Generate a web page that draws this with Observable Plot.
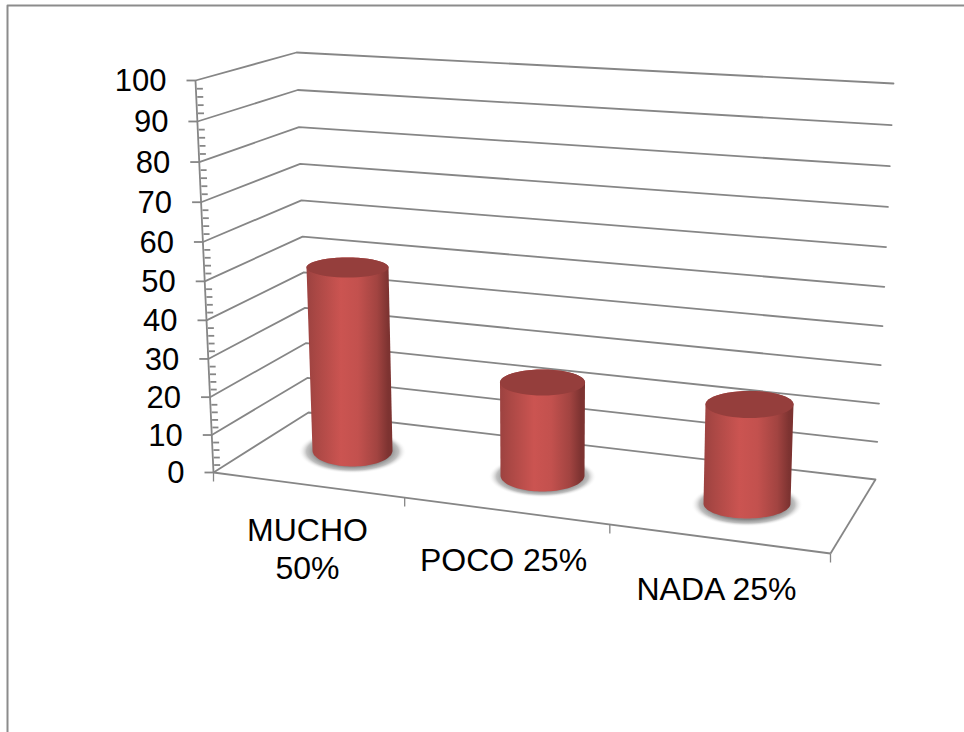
<!DOCTYPE html>
<html>
<head>
<meta charset="utf-8">
<script src="https://cdn.jsdelivr.net/npm/d3@7"></script>
<script src="https://cdn.jsdelivr.net/npm/@observablehq/plot@0.6"></script>
<style>
  html, body { margin: 0; padding: 0; background: #fff; }
  svg { display: block; }
</style>
</head>
<body>
<div id="chart"></div>
<script>
// ---- data ----
const categories = ["MUCHO\n50%", "POCO 25%", "NADA 25%"];
const values = [50, 25, 25];
const majorTicks = [0, 10, 20, 30, 40, 50, 60, 70, 80, 90, 100];
const minorTicks = d3.range(0, 101, 2).filter(v => v % 10 !== 0);

// ---- 3D box corners on the page ----
const box = {
  frontBottom: [213, 472], frontTop: [195, 80],
  backBottom: [308, 412], backTop: [296, 52],
  rightBottom: [875, 479], rightTop: [893, 83],
  frontRight: [830, 553]
};
// ---- cylinder and label placement ----
const cyl = {
  baseX: [352, 542, 746.5], baseY: [450, 475, 503],
  unit: [3.66, 3.72, 3.96], tilt: [-0.1, 0, 0.1],
  rxBase: [40, 42, 43.5], ryBase: [16, 16, 15],
  rxTop: [41, 42.5, 44], ryTop: [10, 13, 13.5],
  shadowRx: [54, 54, 56], shadowRy: [22, 21, 22]
};
const labelPos = {x: [307, 503, 716], y: [513, 543, 572]};

// maps the unit square onto a quadrilateral (perspective)
function quad(p00, p10, p11, p01) {
  const [x0, y0] = p00, [x1, y1] = p10, [x2, y2] = p11, [x3, y3] = p01;
  const dx1 = x1 - x2, dx2 = x3 - x2, sx = x0 - x1 + x2 - x3;
  const dy1 = y1 - y2, dy2 = y3 - y2, sy = y0 - y1 + y2 - y3;
  const den = dx1 * dy2 - dx2 * dy1;
  const g = (sx * dy2 - dx2 * sy) / den, h = (dx1 * sy - sx * dy1) / den;
  const a = x1 - x0 + g * x1, b = x3 - x0 + h * x3, c = x0;
  const d = y1 - y0 + g * y1, e = y3 - y0 + h * y3, f = y0;
  return (u, v) => {
    const w = g * u + h * v + 1;
    return [(a * u + b * v + c) / w, (d * u + e * v + f) / w];
  };
}
const leftWall = quad(box.frontBottom, box.backBottom, box.backTop, box.frontTop);
const backWall = quad(box.backBottom, box.rightBottom, box.rightTop, box.backTop);
const front = (v) => leftWall(0, v / 100);

const pt = ([x, y]) => ({x, y});
const gridlines = majorTicks.flatMap(v => [
  {v, ...pt(leftWall(0, v / 100))},
  {v, ...pt(leftWall(1, v / 100))},
  {v, ...pt(backWall(1, v / 100))}
]);
const seg = (a, b, k) => ({x1: a[0], y1: a[1], x2: b[0], y2: b[1], k});
const majorSegs = majorTicks.map(v => {
  const p = front(v);
  return seg([p[0] - 9, p[1]], p);
});
const minorSegs = minorTicks.map(v => {
  const p = front(v);
  return seg([p[0] + 1, p[1]], [p[0] + 7, p[1]]);
});
const floorFront = quad(box.frontBottom, box.frontRight, box.rightBottom, box.backBottom);
const catTicks = d3.range(0, categories.length + 1).map(i => {
  const p = floorFront(i / categories.length, 0);
  return seg(p, [p[0], p[1] + 9]);
});
const floorLines = [
  seg(box.frontBottom, box.frontRight),
  seg(box.frontRight, box.rightBottom),
  seg(box.frontBottom, box.frontTop)
];
const arc = (cx, cy, rx, ry, a0, a1, n = 48) =>
  d3.range(n + 1).map(i => {
    const t = a0 + (a1 - a0) * i / n;
    return {x: cx + rx * Math.cos(t), y: cy + ry * Math.sin(t)};
  });

const cylMarks = values.flatMap((val, i) => {
  const bx = cyl.baseX[i], by = cyl.baseY[i];
  const tx = bx + val * cyl.tilt[i], ty = by - val * cyl.unit[i];
  const shadow = arc(bx, by + 1, cyl.shadowRx[i], cyl.shadowRy[i], 0, 2 * Math.PI);
  const body = [
    ...arc(bx, by, cyl.rxBase[i], cyl.ryBase[i], Math.PI, 0),
    ...arc(tx, ty, cyl.rxTop[i], cyl.ryTop[i], 0, -Math.PI)
  ];
  const top = arc(tx, ty, cyl.rxTop[i], cyl.ryTop[i], 0, 2 * Math.PI);
  const line = {x: "x", y: "y", stroke: "none"};
  return [
    Plot.line(shadow, {...line, fill: "url(#shadow)"}),
    Plot.line(body, {...line, fill: "url(#body)"}),
    Plot.line(top, {...line, fill: "#953e3c"})
  ];
});

const defs = () => {
  const d = d3.create("svg:defs");
  const g = d.append("linearGradient").attr("id", "body");
  [[0, "#9c4240"], [0.12, "#ab4845"], [0.4, "#cb5451"], [0.6, "#c3514e"], [0.82, "#a24441"], [0.95, "#7d3331"], [1, "#7d3331"]]
    .forEach(([o, c]) => g.append("stop").attr("offset", o).attr("stop-color", c));
  const s = d.append("radialGradient").attr("id", "shadow");
  [[0, "#858585", 1], [0.68, "#858585", 1], [0.85, "#b0b0b0", 0.8], [1, "#ffffff", 0]]
    .forEach(([o, c, a]) => s.append("stop").attr("offset", o).attr("stop-color", c).attr("stop-opacity", a));
  return d.node();
};

const GRID = "#868686";
const linkOpts = {x1: "x1", y1: "y1", x2: "x2", y2: "y2", stroke: GRID, strokeWidth: 1.8};
const border = [{x: 7, y: 740}, {x: 7, y: 5}, {x: 970, y: 5}];

const chart = Plot.plot({
  width: 964, height: 732,
  margin: 0,
  style: {background: "#fff", overflow: "hidden"},
  x: {domain: [0, 964], range: [0, 964], axis: null},
  y: {domain: [0, 732], range: [0, 732], axis: null},
  marks: [
    defs,
    Plot.line(border, {x: "x", y: "y", stroke: "#8c8c8c", strokeWidth: 2}),
    Plot.line(gridlines, {x: "x", y: "y", z: "v", stroke: GRID, strokeWidth: 1.8}),
    Plot.link(floorLines, linkOpts),
    Plot.link(majorSegs, linkOpts),
    Plot.link(minorSegs, linkOpts),
    Plot.link(catTicks, {...linkOpts, strokeWidth: 1.3}),
    ...cylMarks,
    Plot.text(majorTicks, {
      x: v => front(v)[0] - 29,
      y: v => front(v)[1] + 1,
      text: v => String(v),
      textAnchor: "end",
      fontFamily: "Liberation Sans",
      fontSize: 31,
      fill: "#000"
    }),
    Plot.text(categories, {
      x: (d, i) => labelPos.x[i],
      y: (d, i) => labelPos.y[i],
      text: d => d,
      lineAnchor: "top",
      lineHeight: 1.19,
      textAnchor: "middle",
      fontFamily: "Liberation Sans",
      fontSize: 32,
      fill: "#000"
    })
  ]
});
document.getElementById("chart").append(chart);
</script>
</body>
</html>
